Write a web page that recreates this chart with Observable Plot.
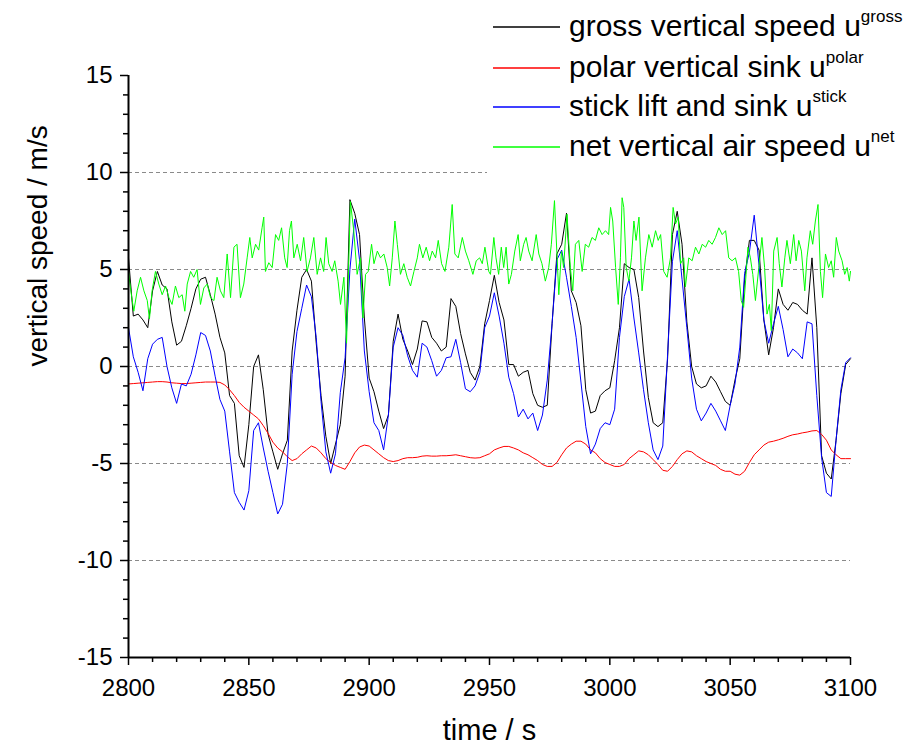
<!DOCTYPE html>
<html>
<head>
<meta charset="utf-8">
<script src="https://cdn.jsdelivr.net/npm/d3@7"></script>
<script src="https://cdn.jsdelivr.net/npm/@observablehq/plot@0.6"></script>
<style>
  html, body { margin: 0; padding: 0; background: #fff; }
  #wrap { position: relative; width: 914px; height: 745px; font-family: "Liberation Sans", Arial, sans-serif; }
  #legend { position: absolute; left: 487px; top: 0px; width: 427px; height: 176px; background: #fff; }
  .ltxt { position: absolute; left: 82px; white-space: nowrap; font-size: 30px; line-height: 30px; color: #000; }
  .ltxt sup { font-size: 17px; position: relative; top: -3px; vertical-align: super; line-height: 0; }
</style>
</head>
<body>
<div id="wrap"><div id="chart"></div><div id="legend"><svg id="keys" width="80" height="176" style="position:absolute;left:0;top:0"></svg></div></div>
<script>
// sample grid (s) for gross, polar and stick series
const time = [2800,2802,2804,2806,2808,2810,2812,2814,2816,2818,2820,2822,2824,2826,2828,2830,2832,2834,2836,2838,2840,2842,2844,2846,2848,
2850,2852,2854,2856,2858,2860,2862,2864,2866,2868,2870,2872,2874,2876,2878,2880,2882,2884,2886,2888,2890,2892,2894,2896,2898,
2900,2902,2904,2906,2908,2910,2912,2914,2916,2918,2920,2922,2924,2926,2928,2930,2932,2934,2936,2938,2940,2942,2944,2946,2948,
2950,2952,2954,2956,2958,2960,2962,2964,2966,2968,2970,2972,2974,2976,2978,2980,2982,2984,2986,2988,2990,2992,2994,2996,2998,
3000,3002,3004,3006,3008,3010,3012,3014,3016,3018,3020,3022,3024,3026,3028,3030,3032,3034,3036,3038,3040,3042,3044,3046,3048,
3050,3052,3054,3056,3058,3060,3062,3064,3066,3068,3070,3072,3074,3076,3078,3080,3082,3084,3086,3088,3090,3092,3094,3096,3098,3100];

const gross = [5.6,2.6,2.7,2.4,2.0,3.9,4.9,4.2,4.0,2.3,1.1,1.3,2.1,3.0,4.0,4.5,4.6,3.7,2.7,1.5,0.7,-1.5,-1.9,-4.6,-5.2,
-3.0,0.0,0.6,-1.2,-3.5,-4.4,-5.3,-4.5,-3.8,0.8,2.9,4.6,5.0,4.4,1.2,-1.5,-3.6,-5.0,-4.0,-3.0,-0.5,8.6,7.9,6.8,2.5,
-0.6,-1.3,-2.3,-3.2,-2.5,1.3,2.7,1.4,0.8,0.1,0.9,2.35,2.3,1.5,1.2,0.8,1.0,3.5,3.1,1.7,0.65,-0.3,-0.7,0.0,2.2,
3.4,4.7,3.3,2.4,0.1,0.1,-0.5,-0.3,-0.2,-1.4,-2.0,-2.1,-2.0,2.2,5.8,6.3,7.9,3.9,3.3,2.1,-1.2,-2.4,-2.3,-1.5,-1.25,
-1.1,0.3,2.0,5.3,5.1,5.0,3.55,0.8,-1.6,-2.9,-3.1,-2.9,0.4,6.8,8.0,6.3,2.3,0.0,-0.9,-1.1,-1.0,-0.5,-0.8,-1.3,-1.8,
-2.0,-0.7,0.4,4.5,6.5,6.5,6.0,2.4,0.6,2.0,4.0,3.2,2.9,3.3,3.2,2.9,2.7,5.6,2.0,-4.6,-5.5,-5.8,-3.8,-1.4,0.1,0.4];

const polar = [-0.9,-0.88,-0.86,-0.84,-0.82,-0.8,-0.78,-0.78,-0.8,-0.84,-0.86,-0.88,-0.88,-0.86,-0.84,-0.82,-0.8,-0.8,-0.8,-0.82,-0.95,-1.2,-1.5,-1.85,-2.1,
-2.3,-2.5,-2.7,-3.05,-3.45,-3.9,-4.2,-4.4,-4.65,-4.85,-4.75,-4.5,-4.3,-4.1,-4.2,-4.45,-4.75,-4.95,-5.1,-5.2,-5.3,-4.9,-4.45,-4.15,-4.05,
-4.1,-4.3,-4.5,-4.7,-4.85,-4.9,-4.85,-4.75,-4.7,-4.7,-4.68,-4.62,-4.6,-4.62,-4.62,-4.6,-4.6,-4.58,-4.55,-4.6,-4.65,-4.7,-4.72,-4.7,-4.6,
-4.5,-4.3,-4.2,-4.12,-4.12,-4.2,-4.3,-4.45,-4.55,-4.7,-4.85,-5.05,-5.15,-5.15,-4.95,-4.55,-4.2,-4.0,-3.85,-3.85,-4.0,-4.3,-4.45,-4.75,-4.95,
-5.05,-5.15,-5.15,-5.05,-4.75,-4.55,-4.35,-4.4,-4.55,-4.8,-5.05,-5.35,-5.4,-5.15,-4.8,-4.5,-4.35,-4.4,-4.6,-4.75,-4.9,-5.0,-5.1,-5.3,-5.4,
-5.4,-5.55,-5.6,-5.4,-4.95,-4.55,-4.3,-4.05,-3.9,-3.85,-3.78,-3.7,-3.6,-3.52,-3.48,-3.42,-3.38,-3.32,-3.3,-3.5,-3.8,-4.3,-4.55,-4.75,-4.75,-4.75];

const stick = [2.0,0.5,-0.3,-1.25,0.4,1.15,1.4,1.5,0.0,-1.1,-1.9,-0.9,-1.0,-0.4,0.6,1.75,1.6,0.8,-0.5,-1.7,-2.3,-4.4,-6.5,-7.0,-7.4,
-6.4,-3.3,-2.9,-4.2,-5.4,-6.5,-7.6,-7.1,-5.0,-0.4,1.8,3.0,4.2,3.6,1.5,-1.8,-4.4,-5.5,-4.5,-1.35,0.45,5.0,7.6,5.5,0.8,
-1.3,-2.9,-3.3,-4.3,-2.5,1.0,2.0,1.6,0.55,-0.2,-0.55,1.2,1.0,0.3,-0.5,-0.2,0.45,0.5,1.4,0.2,-1.15,-1.3,-1.0,-0.3,2.0,
2.6,3.8,2.6,1.2,-0.55,-1.4,-2.6,-2.2,-2.7,-2.4,-3.3,-2.5,-0.7,2.2,5.5,6.0,4.6,3.1,1.5,-0.8,-3.1,-4.5,-4.0,-3.2,-2.9,
-3.0,-2.2,1.5,3.6,4.5,2.5,0.7,-1.2,-2.9,-4.3,-4.8,-4.1,0.6,5.4,7.0,4.5,2.0,-0.6,-2.2,-2.8,-2.4,-1.9,-2.3,-2.8,-3.3,
-2.0,-0.9,1.0,4.8,5.9,7.8,5.2,2.4,1.2,2.2,3.1,1.9,0.5,0.9,0.7,0.4,2.3,2.2,-1.5,-4.7,-6.5,-6.7,-3.8,-1.2,0.2,0.45];

// net vertical air speed: read vertex by vertex
const netTime = [2800,2800.8,2802.2,2803.6,2805.0,2806.4,2807.8,2808.7,2809.8,2811.2,2812.6,2814.0,2815.4,2816.8,2818.1,2819.5,2820.9,2822.3,2823.4,2824.4,2825.8,2827.1,2828.5,2829.9,2831.3,2832.7,2834.1,2835.5,2836.8,2838.2,2839.6,2841.0,2842.4,2843.8,2845.1,2846.5,2847.9,2849.3,2850.4,2851.4,2852.8,2854.1,2855.5,2856.2,2856.9,2858.3,2859.7,2861.1,2862.4,2863.6,2864.9,2865.9,2866.9,2867.7,2868.7,2870.1,2871.5,2872.8,2874.2,2875.6,2877.0,2878.4,2879.8,2881.1,2882.1,2883.2,2884.6,2885.7,2887.1,2888.1,2889.5,2890.6,2892.2,2893.6,2895.0,2896.4,2897.4,2898.5,2899.6,2901.0,2902.0,2903.4,2904.7,2906.1,2907.5,2908.5,2909.6,2910.7,2911.7,2913.0,2914.4,2915.8,2917.2,2918.6,2920.0,2920.9,2922.3,2923.7,2925.1,2926.2,2927.6,2928.7,2930.1,2931.5,2933.1,2934.5,2935.6,2937.0,2938.7,2940.0,2941.4,2943.1,2944.5,2945.9,2947.0,2948.1,2949.7,2950.4,2951.8,2952.7,2953.8,2954.9,2955.9,2956.9,2958.0,2959.1,2960.5,2961.9,2962.8,2964.2,2965.2,2966.3,2967.7,2969.4,2970.5,2971.8,2973.2,2974.6,2975.7,2977.0,2978.1,2978.8,2979.9,2980.8,2982.2,2983.6,2984.6,2985.7,2987.1,2988.5,2989.8,2991.2,2992.6,2994.0,2995.4,2996.8,2998.2,2999.5,3000.3,3001.2,3002.4,3003.5,3004.4,3005.1,3005.8,3006.8,3007.9,3009.0,3010.0,3010.9,3012.1,3013.4,3014.8,3016.2,3017.6,3019.0,3020.1,3021.1,3022.4,3023.8,3025.2,3026.3,3027.3,3028.4,3029.4,3030.7,3031.4,3032.8,3034.2,3035.6,3037.0,3038.4,3039.8,3041.1,3042.5,3043.9,3045.3,3046.7,3048.1,3049.4,3050.8,3052.2,3053.5,3054.6,3055.6,3056.6,3057.4,3058.4,3059.4,3060.5,3061.9,3063.2,3064.3,3065.3,3066.3,3067.1,3068.1,3069.5,3070.4,3071.5,3072.7,3073.6,3075.0,3076.4,3077.4,3078.5,3079.6,3081.0,3081.9,3083.3,3084.3,3085.4,3086.5,3087.5,3088.4,3089.6,3090.9,3092.0,3093.0,3094.1,3095.1,3096.5,3097.6,3098.6,3099.5,3100];
const netValue = [4.9,4.05,2.85,3.9,4.6,3.9,3.4,2.45,3.9,4.9,4.25,3.7,4.15,3.55,3.2,4.15,3.55,3.7,2.85,4.25,4.9,4.6,5.0,3.2,4.05,4.25,3.55,3.4,4.6,3.9,3.55,5.8,3.55,6.15,6.3,3.55,4.25,5.6,6.65,5.6,6.3,6.0,7.15,7.7,4.9,5.35,5.1,6.8,6.5,7.15,5.6,5.1,7.0,7.5,5.6,6.3,5.45,6.65,4.9,5.6,6.65,4.75,5.6,4.9,6.65,5.3,4.9,5.45,4.4,3.2,4.6,1.2,8.5,7.0,4.75,5.6,2.5,4.75,4.9,6.3,5.3,5.95,5.6,5.8,5.1,4.15,5.6,7.5,6.3,4.75,5.3,4.6,4.15,4.9,5.6,6.3,5.6,6.15,5.45,5.95,5.6,6.5,5.3,4.9,6.15,8.35,5.8,5.6,6.65,5.95,5.45,4.75,5.45,5.6,5.3,6.15,4.9,4.75,6.65,5.6,4.75,6.15,5.1,6.15,4.25,4.75,5.95,6.8,5.45,6.3,6.65,5.95,5.45,6.8,5.8,5.3,4.4,5.1,6.3,8.55,5.6,3.7,5.95,5.1,7.85,5.1,3.9,6.3,6.5,4.9,6.3,6.15,6.65,6.5,7.15,6.8,7.0,6.8,8.2,7.5,5.1,3.2,5.6,8.7,8.2,5.1,4.4,5.6,7.5,6.5,7.7,3.9,5.6,6.8,6.15,7.0,6.5,6.8,4.9,4.6,5.6,8.2,7.35,7.7,5.3,5.6,4.1,5.6,5.45,6.15,5.8,6.3,6.15,6.5,6.3,6.65,7.15,6.8,7.0,5.6,5.45,5.6,4.9,3.4,3.05,4.75,6.15,5.6,4.75,3.4,5.1,6.65,5.1,2.7,3.2,1.85,5.95,6.65,5.3,4.1,5.6,6.5,5.3,6.8,5.45,6.5,5.95,3.9,5.6,7.0,6.3,7.5,8.35,4.9,3.55,5.8,5.1,5.45,4.6,6.65,5.95,5.45,4.75,5.1,4.4,4.9];

const xMajor = [2800, 2850, 2900, 2950, 3000, 3050, 3100];
const xMinor = [2810,2820,2830,2840,2860,2870,2880,2890,2910,2920,2930,2940,2960,2970,2980,2990,3010,3020,3030,3040,3060,3070,3080,3090];
const yMajor = [-15, -10, -5, 0, 5, 10, 15];
const yMinor = [-14,-13,-12,-11,-9,-8,-7,-6,-4,-3,-2,-1,1,2,3,4,6,7,8,9,11,12,13,14];
const yGrid = [-10, -5, 0, 5, 10];

const seriesNames = ["gross vertical speed u", "polar vertical sink u", "stick lift and sink u", "net vertical air speed u"];
const seriesSup = ["gross", "polar", "stick", "net"];
const seriesColors = ["#000000", "#ff0000", "#0000ff", "#00ff00"];

const chart = Plot.plot({
  width: 914,
  height: 745,
  marginLeft: 128,
  marginRight: 64,
  marginTop: 75,
  marginBottom: 88,
  x: {domain: [2800, 3100]},
  y: {domain: [-15, 15]},
  style: {fontFamily: "'Liberation Sans', Arial, sans-serif", background: "white", color: "black"},
  marks: [
    Plot.gridY(yGrid, {stroke: "#8a8a8a", strokeOpacity: 1, strokeDasharray: "4,3"}),
    Plot.line(gross, {x: time, y: gross, stroke: seriesColors[0], strokeWidth: 1}),
    Plot.line(polar, {x: time, y: polar, stroke: seriesColors[1], strokeWidth: 1}),
    Plot.line(stick, {x: time, y: stick, stroke: seriesColors[2], strokeWidth: 1}),
    Plot.line(netValue, {x: netTime, y: netValue, stroke: seriesColors[3], strokeWidth: 1}),
    Plot.ruleX([2800], {strokeWidth: 2}),
    Plot.ruleY([-15], {strokeWidth: 2}),
    Plot.axisX(xMajor, {tickSize: 8, tickPadding: 13, fontSize: 24, strokeWidth: 1.5, label: null, tickFormat: d => String(d)}),
    Plot.axisX(xMinor, {tickSize: 5, text: null, strokeWidth: 1.5, label: null}),
    Plot.axisY(yMajor, {tickSize: 8, tickPadding: 8, fontSize: 24, strokeWidth: 1.5, label: null, tickFormat: d => String(d)}),
    Plot.axisY(yMinor, {tickSize: 5, text: null, strokeWidth: 1.5, label: null}),
    Plot.text(["time / s"], {frameAnchor: "bottom", dy: 82, fontSize: 29}),
    Plot.text(["vertical speed / m/s"], {frameAnchor: "left", dx: -90, rotate: -90, fontSize: 28})
  ]
});
document.getElementById("chart").appendChild(chart);

// legend (white box covering the plot corner, as in the reference)
const rowY = [27, 68, 107, 147];
const legend = document.getElementById("legend");
const keys = d3.select("#keys");
keys.selectAll("line")
  .data(seriesColors)
  .join("line")
  .attr("x1", 6).attr("x2", 73)
  .attr("y1", (c, i) => rowY[i]).attr("y2", (c, i) => rowY[i])
  .attr("stroke-width", 1.3)
  .style("stroke", c => c);
seriesNames.forEach((name, i) => {
  const txt = document.createElement("div");
  txt.className = "ltxt";
  txt.style.top = (rowY[i] - 16) + "px";
  txt.appendChild(document.createTextNode(name));
  const sup = document.createElement("sup");
  sup.textContent = seriesSup[i];
  txt.appendChild(sup);
  legend.appendChild(txt);
});
</script>
</body>
</html>
